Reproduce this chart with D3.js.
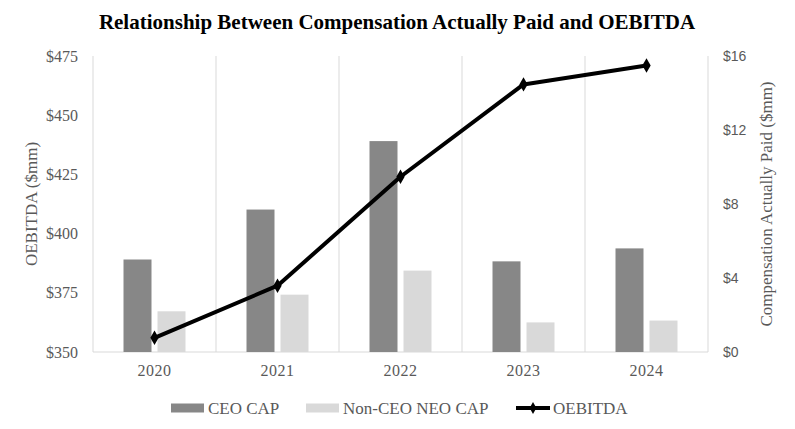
<!DOCTYPE html>
<html>
<head>
<meta charset="utf-8">
<script src="https://d3js.org/d3.v7.min.js"></script>
<style>
  body { margin: 0; background: #fff; }
  text { font-family: "Liberation Serif", "Times New Roman", serif; }
</style>
</head>
<body>
<div id="chart"></div>
<script>
let years = ["2020", "2021", "2022", "2023", "2024"];
let ceoCap = [5.0, 7.7, 11.4, 4.9, 5.6];
let neoCap = [2.2, 3.1, 4.4, 1.6, 1.7];
let oebitda = [356, 378, 424, 463, 471];
let leftTicks = [350, 375, 400, 425, 450, 475];
let rightTicks = [0, 4, 8, 12, 16];

let svgWidth = 795;
let svgHeight = 429;

let margin = { top: 56, right: 87, bottom: 77, left: 93 };
let width = svgWidth - margin.left - margin.right;
let height = svgHeight - margin.top - margin.bottom;

let svg = d3.select("#chart")
    .append("svg")
    .attr("width", svgWidth)
    .attr("height", svgHeight);

let chartGroup = svg.append("g")
    .attr("transform", `translate(${margin.left}, ${margin.top})`);

// scales
let x = d3.scaleBand().domain(years).range([0, width]);
let yLeft = d3.scaleLinear().domain([350, 475]).range([height, 0]);
let yRight = d3.scaleLinear().domain([0, 16]).range([height, 0]);

let barW = 28, barGap = 6;

// vertical gridlines at category boundaries
let bounds = years.map(d => x(d)).concat([width]);
chartGroup.selectAll(".vgrid")
    .data(bounds)
    .enter()
    .append("line")
    .attr("x1", d => d).attr("x2", d => d)
    .attr("y1", 0).attr("y2", height)
    .attr("stroke", "#d9d9d9")
    .attr("stroke-width", 1);

// bottom axis line
chartGroup.append("line")
    .attr("x1", 0).attr("x2", width)
    .attr("y1", height).attr("y2", height)
    .attr("stroke", "#d9d9d9");

// bars
chartGroup.selectAll(".ceo")
    .data(years)
    .enter()
    .append("rect")
    .attr("x", d => x(d) + x.bandwidth() / 2 - barGap / 2 - barW)
    .attr("y", (d, i) => yRight(ceoCap[i]))
    .attr("width", barW)
    .attr("height", (d, i) => height - yRight(ceoCap[i]))
    .attr("fill", "#878787");

chartGroup.selectAll(".neo")
    .data(years)
    .enter()
    .append("rect")
    .attr("x", d => x(d) + x.bandwidth() / 2 + barGap / 2)
    .attr("y", (d, i) => yRight(neoCap[i]))
    .attr("width", barW)
    .attr("height", (d, i) => height - yRight(neoCap[i]))
    .attr("fill", "#d9d9d9");

// OEBITDA line
let line = d3.line()
    .x((d, i) => x(years[i]) + x.bandwidth() / 2)
    .y(d => yLeft(d));

chartGroup.append("path")
    .datum(oebitda)
    .attr("d", line)
    .attr("fill", "none")
    .attr("stroke", "#000")
    .attr("stroke-width", 4)
    .attr("stroke-linejoin", "round");

let diamond = d3.symbol().type(d3.symbolDiamond).size(60);
chartGroup.selectAll(".marker")
    .data(oebitda)
    .enter()
    .append("path")
    .attr("d", diamond)
    .attr("transform", (d, i) => `translate(${x(years[i]) + x.bandwidth() / 2}, ${yLeft(d)})`)
    .attr("fill", "#000");

// left axis
let leftAxis = d3.axisLeft(yLeft).tickValues(leftTicks).tickSize(0).tickPadding(15)
    .tickFormat(d => "$" + d);
chartGroup.append("g")
    .call(leftAxis)
    .call(g => g.select(".domain").remove())
    .selectAll("text")
    .attr("fill", "#595959")
    .style("font-family", "Liberation Serif")
    .style("font-size", "16px");

// right axis
let rightAxis = d3.axisRight(yRight).tickValues(rightTicks).tickSize(0).tickPadding(15)
    .tickFormat(d => "$" + d);
chartGroup.append("g")
    .attr("transform", `translate(${width}, 0)`)
    .call(rightAxis)
    .call(g => g.select(".domain").remove())
    .selectAll("text")
    .attr("fill", "#595959")
    .style("font-family", "Liberation Sans")
    .style("font-size", "14px");

// bottom axis labels
let bottomAxis = d3.axisBottom(x).tickSize(0).tickPadding(13);
chartGroup.append("g")
    .attr("transform", `translate(0, ${height})`)
    .call(bottomAxis)
    .call(g => g.select(".domain").remove())
    .selectAll("text")
    .attr("fill", "#595959")
    .style("font-family", "Liberation Serif")
    .style("font-size", "16px")
    .style("letter-spacing", "0.5px");

// axis titles
svg.append("text")
    .attr("transform", `translate(37, ${margin.top + height / 2}) rotate(-90)`)
    .attr("text-anchor", "middle")
    .attr("fill", "#595959")
    .style("font-size", "17px")
    .text("OEBITDA ($mm)");

svg.append("text")
    .attr("transform", `translate(772, ${margin.top + height / 2}) rotate(-90)`)
    .attr("text-anchor", "middle")
    .attr("fill", "#595959")
    .style("font-size", "17px")
    .text("Compensation Actually Paid ($mm)");

// title
svg.append("text")
    .attr("x", 397)
    .attr("y", 29)
    .attr("text-anchor", "middle")
    .attr("fill", "#000")
    .style("font-size", "21px")
    .style("font-weight", "bold")
    .text("Relationship Between Compensation Actually Paid and OEBITDA");

// legend
let legend = svg.append("g").attr("transform", "translate(0, 408)");
let items = [
    { label: "CEO CAP", x: 171, type: "rect", color: "#878787" },
    { label: "Non-CEO NEO CAP", x: 306, type: "rect", color: "#d9d9d9" },
    { label: "OEBITDA", x: 516, type: "line", color: "#000" }
];
items.forEach(function (it) {
    if (it.type === "rect") {
        legend.append("rect")
            .attr("x", it.x).attr("y", -4.5)
            .attr("width", 33).attr("height", 9)
            .attr("fill", it.color);
    } else {
        legend.append("line")
            .attr("x1", it.x).attr("x2", it.x + 34)
            .attr("y1", 0).attr("y2", 0)
            .attr("stroke", it.color).attr("stroke-width", 4);
        legend.append("path")
            .attr("d", d3.symbol().type(d3.symbolDiamond).size(40))
            .attr("transform", `translate(${it.x + 17}, 0)`)
            .attr("fill", it.color);
    }
    legend.append("text")
        .attr("x", it.x + 37)
        .attr("y", 6)
        .attr("fill", "#595959")
        .style("font-size", "17px")
        .text(it.label);
});
</script>
</body>
</html>
